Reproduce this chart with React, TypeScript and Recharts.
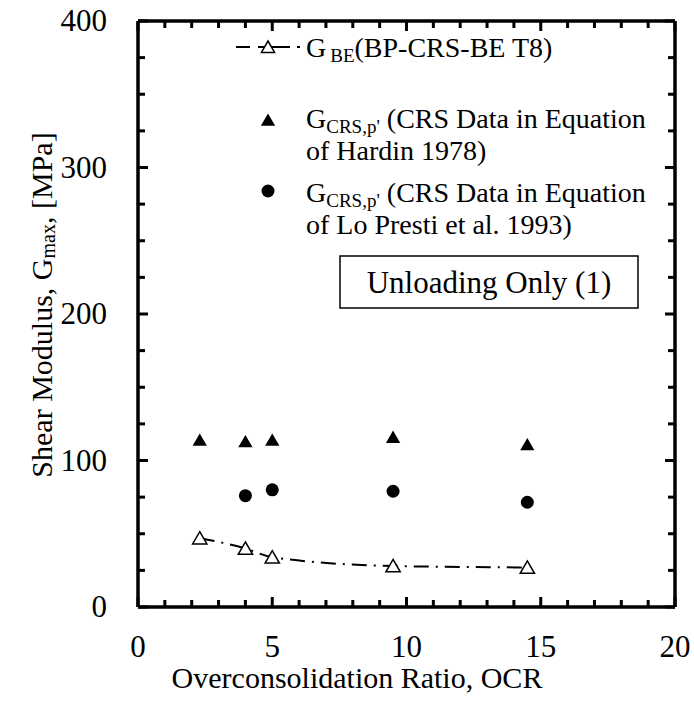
import React from "react";
import { ComposedChart, Line, Scatter, XAxis, YAxis, Legend } from "recharts";

// OCR vs G readings
const ocrBE = [2.3, 4, 5, 9.5, 14.5];
const gBE = [47, 40, 34, 28, 27];
const ocrHardin = [2.3, 4, 5, 9.5, 14.5];
const gHardin = [114, 113, 114, 116, 111];
const ocrLoPresti = [4, 5, 9.5, 14.5];
const gLoPresti = [76, 80, 79, 71.5];

const xTicks = [0, 1, 2, 3, 4, 5, 6, 7, 8, 9, 10, 11, 12, 13, 14, 15, 16, 17, 18, 19, 20];
const xLabels = [0, 5, 10, 15, 20];
const yTicks = [0, 25, 50, 75, 100, 125, 150, 175, 200, 225, 250, 275, 300, 325, 350, 375, 400];
const yLabels = [0, 100, 200, 300, 400];

const W = 694;
const H = 706;
const FONT = '"Liberation Serif", "Times New Roman", serif';
const MARGIN = { top: 20, right: 18, bottom: 98, left: 137 };
// frame edges opposite the labelled axes (top axis height / right axis width are 1)
const PLOT_TOP = MARGIN.top + 1;
const PLOT_RIGHT = W - MARGIN.right - 1;

const toPoints = (xs: number[], ys: number[]) => xs.map((ocr, i) => ({ ocr, g: ys[i] }));
const beData = toPoints(ocrBE, gBE);
const hardinData = toPoints(ocrHardin, gHardin);
const loPrestiData = toPoints(ocrLoPresti, gLoPresti);

const tri = (cx: number, cy: number, s: number) =>
	`M${cx},${cy - s * 0.5}L${cx + s * 0.55},${cy + s * 0.45}L${cx - s * 0.55},${cy + s * 0.45}Z`;

// inward ticks on the labelled axis and mirrored on the opposite frame edge
function AxisTick(props: any) {
	const { x, y, payload, side, labels } = props;
	const v = payload.value;
	const major = labels.includes(v);
	const len = major ? 10 : 7;
	const sw = 3;
	if (side === "bottom") {
		return (
			<g>
				<line x1={x} y1={y} x2={x} y2={y - len} stroke="#000" strokeWidth={sw} />
				<line x1={x} y1={PLOT_TOP} x2={x} y2={PLOT_TOP + len} stroke="#000" strokeWidth={sw} />
				{major && (
					<text x={x} y={y + 50} textAnchor="middle" fontSize={31} fontFamily={FONT} fill="#000">
						{v}
					</text>
				)}
			</g>
		);
	}
	return (
		<g>
			<line x1={x} y1={y} x2={x + len} y2={y} stroke="#000" strokeWidth={sw} />
			<line x1={PLOT_RIGHT} y1={y} x2={PLOT_RIGHT - len} y2={y} stroke="#000" strokeWidth={sw} />
			{major && (
				<text x={x - 31} y={y + 10} textAnchor="end" fontSize={31} fontFamily={FONT} fill="#000">
					{v}
				</text>
			)}
		</g>
	);
}

function YTitle() {
	return (
		<text
			transform="rotate(-90, 41, 305)"
			x={41}
			y={305}
			textAnchor="middle"
			dominantBaseline="central"
			fontSize={30}
			fontFamily={FONT}
			fill="#000"
		>
			Shear Modulus, G
			<tspan fontSize={20} dy={7}>max</tspan>
			<tspan dy={-7}>, [MPa]</tspan>
		</text>
	);
}

function XTitle() {
	return (
		<text x={357} y={688} textAnchor="middle" fontSize={30} fontFamily={FONT} fill="#000">
			Overconsolidation Ratio, OCR
		</text>
	);
}

function LegendBox() {
	const t = { fontSize: 28, fontFamily: FONT, fill: "#000" };
	return (
		<svg width={W} height={H} style={{ position: "absolute", left: 0, top: 0 }}>
			{/* G_BE */}
			<line x1={236} y1={47} x2={250} y2={47} stroke="#000" strokeWidth={2} />
			<line x1={258} y1={47} x2={290} y2={47} stroke="#000" strokeWidth={2} />
			<line x1={297} y1={47} x2={300} y2={47} stroke="#000" strokeWidth={2} />
			<path d={tri(268, 47, 12)} fill="#fff" stroke="#000" strokeWidth={1.5} />
			<text x={306} y={57} {...t}>
				G<tspan fontSize={19} dx={4} dy={5}>BE</tspan>
				<tspan dy={-5}>(BP-CRS-BE T8)</tspan>
			</text>
			{/* Hardin */}
			<path d={tri(268, 120, 13)} fill="#000" />
			<text x={306} y={128} {...t}>
				G<tspan fontSize={19} dy={5}>CRS,p'</tspan>
				<tspan dy={-5}> (CRS Data in Equation</tspan>
			</text>
			<text x={306} y={160} {...t}>of Hardin 1978)</text>
			{/* Lo Presti */}
			<circle cx={268} cy={191} r={6.5} fill="#000" />
			<text x={306} y={202} {...t}>
				G<tspan fontSize={19} dy={5}>CRS,p'</tspan>
				<tspan dy={-5}> (CRS Data in Equation</tspan>
			</text>
			<text x={306} y={234} {...t}>of Lo Presti et al. 1993)</text>
			{/* note */}
			<rect x={340} y={256} width={298} height={52} fill="#fff" stroke="#000" strokeWidth={1.5} />
			<text x={489} y={293} textAnchor="middle" {...t} fontSize={31}>
				Unloading Only (1)
			</text>
		</svg>
	);
}

const OpenTriangle = (p: any) => (
	<path key={`be-${p.index}`} d={tri(p.cx, p.cy, 13)} fill="#fff" stroke="#000" strokeWidth={1.5} />
);
const FilledTriangle = (p: any) => <path d={tri(p.cx, p.cy, 13)} fill="#000" />;
const Dot = (p: any) => <circle cx={p.cx} cy={p.cy} r={6.5} fill="#000" />;

const frame = { stroke: "#000", strokeWidth: 3.5 };

export default function App() {
	return (
		<div style={{ position: "absolute", left: 0, top: 0, width: W, height: H, background: "#fff" }}>
			<ComposedChart width={W} height={H} margin={MARGIN}>
				<XAxis
					xAxisId="main"
					dataKey="ocr"
					type="number"
					domain={[0, 20]}
					allowDataOverflow
					ticks={xTicks}
					interval={0}
					height={1}
					tickSize={0}
					tickMargin={0}
					tickLine={false}
					axisLine={frame}
					tick={(p: any) => <AxisTick {...p} side="bottom" labels={xLabels} />}
					label={<XTitle />}
				/>
				<XAxis
					xAxisId="top"
					orientation="top"
					type="number"
					domain={[0, 20]}
					height={1}
					tick={false}
					tickLine={false}
					axisLine={frame}
				/>
				<YAxis
					yAxisId="main"
					dataKey="g"
					type="number"
					domain={[0, 400]}
					allowDataOverflow
					ticks={yTicks}
					interval={0}
					width={1}
					tickSize={0}
					tickMargin={0}
					tickLine={false}
					axisLine={frame}
					tick={(p: any) => <AxisTick {...p} side="left" labels={yLabels} />}
					label={<YTitle />}
				/>
				<YAxis
					yAxisId="right"
					orientation="right"
					type="number"
					domain={[0, 400]}
					width={1}
					tick={false}
					tickLine={false}
					axisLine={frame}
				/>
				<Line
					xAxisId="main"
					yAxisId="main"
					data={beData}
					dataKey="g"
					type="monotone"
					stroke="#000"
					strokeWidth={2}
					strokeDasharray="15 7 2 7"
					dot={OpenTriangle}
					activeDot={false}
					isAnimationActive={false}
				/>
				<Scatter xAxisId="main" yAxisId="main" data={hardinData} dataKey="g" shape={FilledTriangle} isAnimationActive={false} />
				<Scatter xAxisId="main" yAxisId="main" data={loPrestiData} dataKey="g" shape={Dot} isAnimationActive={false} />
				<Legend
					layout="horizontal"
					verticalAlign="middle"
					align="center"
					wrapperStyle={{ position: "absolute", left: 0, top: 0, width: W, height: H, pointerEvents: "none" }}
					content={() => <LegendBox />}
				/>
			</ComposedChart>
		</div>
	);
}
